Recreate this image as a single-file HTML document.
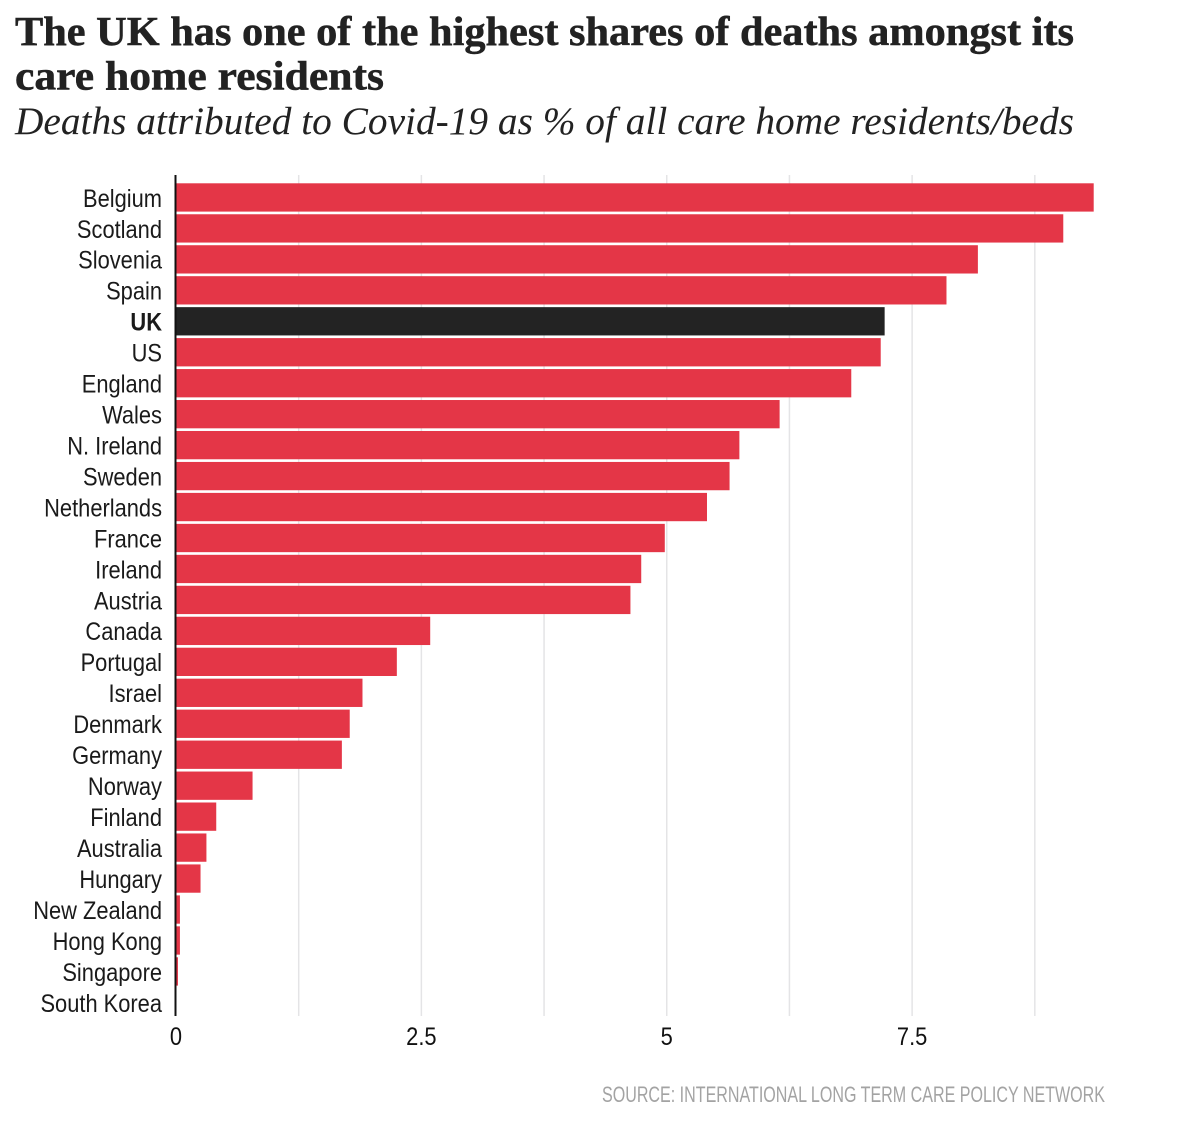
<!DOCTYPE html>
<html lang="en">
<head>
<meta charset="utf-8">
<title>UK care home deaths</title>
<style>
html,body{margin:0;padding:0;background:#fff;width:1200px;height:1137px;overflow:hidden}
svg{display:block}
.t{font-family:"Liberation Serif",serif;font-weight:700;font-size:41px;fill:#222;stroke:#222;stroke-width:.5}
.s{font-family:"Liberation Serif",serif;font-style:italic;font-size:39px;fill:#222}
.l{font-family:"Liberation Sans",sans-serif;font-size:25px;fill:#1a1a1a;text-anchor:end}
.x{font-family:"Liberation Sans",sans-serif;font-size:25px;fill:#111;text-anchor:middle}
.f{font-family:"Liberation Sans",sans-serif;font-size:22px;fill:#a3a3a3}
</style>
</head>
<body>
<svg id="chart" xmlns="http://www.w3.org/2000/svg" width="1200" height="1137" viewBox="0 0 1200 1137">
  <text class="t" x="15" y="45" textLength="1059" lengthAdjust="spacingAndGlyphs">The UK has one of the highest shares of deaths amongst its</text>
  <text class="t" x="15" y="89.5" textLength="369" lengthAdjust="spacingAndGlyphs">care home residents</text>
  <text class="s" x="15" y="134" textLength="1059" lengthAdjust="spacingAndGlyphs">Deaths attributed to Covid-19 as % of all care home residents/beds</text>
  <g id="grid"></g>
  <g id="bars"></g>
  <g id="labels"></g>
  <g id="ticks"></g>
  <line x1="175.5" x2="175.5" y1="175" y2="1016" stroke="#111" stroke-width="2"></line>
  <text class="f" x="602" y="1102" textLength="503" lengthAdjust="spacingAndGlyphs">SOURCE: INTERNATIONAL LONG TERM CARE POLICY NETWORK</text>
</svg>
<script>
const categories = ["Belgium","Scotland","Slovenia","Spain","UK","US","England","Wales","N. Ireland","Sweden","Netherlands","France","Ireland","Austria","Canada","Portugal","Israel","Denmark","Germany","Norway","Finland","Australia","Hungary","New Zealand","Hong Kong","Singapore","South Korea"];
const values = [9.35,9.04,8.17,7.85,7.22,7.18,6.88,6.15,5.74,5.64,5.41,4.98,4.74,4.63,2.59,2.25,1.90,1.77,1.69,0.78,0.41,0.31,0.25,0.04,0.04,0.02,0];
const highlighted = ["UK"];
const gridValues = [1.25,2.5,3.75,5,6.25,7.5,8.75];
const tickValues = [0,2.5,5,7.5];
const tickLabels = ["0","2.5","5","7.5"];

const NS = "http://www.w3.org/2000/svg";
const xScale = v => 176 + v * 98.15;
const yScale = i => 183.3 + i * 30.96;
const barHeight = 28.3;
const squeeze = 0.875;

function make(tag, attrs, parent, text) {
  const el = document.createElementNS(NS, tag);
  for (const k in attrs) el.setAttribute(k, attrs[k]);
  if (text !== undefined) el.textContent = text;
  document.getElementById(parent).appendChild(el);
  return el;
}

gridValues.forEach(v => {
  const el = make("line", {x1: xScale(v), x2: xScale(v), y1: 175, y2: 1016, stroke: "#e4e4e6", "stroke-width": 1.5}, "grid");
  
  
});

categories.forEach((c, i) => {
  const hi = highlighted.includes(c);
  const bar = make("rect", {x: xScale(0), y: yScale(i), width: Math.max(0, xScale(values[i]) - xScale(0)), height: barHeight, fill: hi ? "#232323" : "#e43647"}, "bars");
  
  
  const label = make("text", {class: "l", transform: "translate(162," + (yScale(i) + 23.5) + ") scale(" + squeeze + ",1)", "font-weight": hi ? 700 : 400}, "labels", c);
  
  
});

tickValues.forEach((v, i) => {
  const el = make("text", {class: "x", transform: "translate(" + xScale(v) + ",1045) scale(" + squeeze + ",1)"}, "ticks", tickLabels[i]);
  
  
});
</script>
</body>
</html>
